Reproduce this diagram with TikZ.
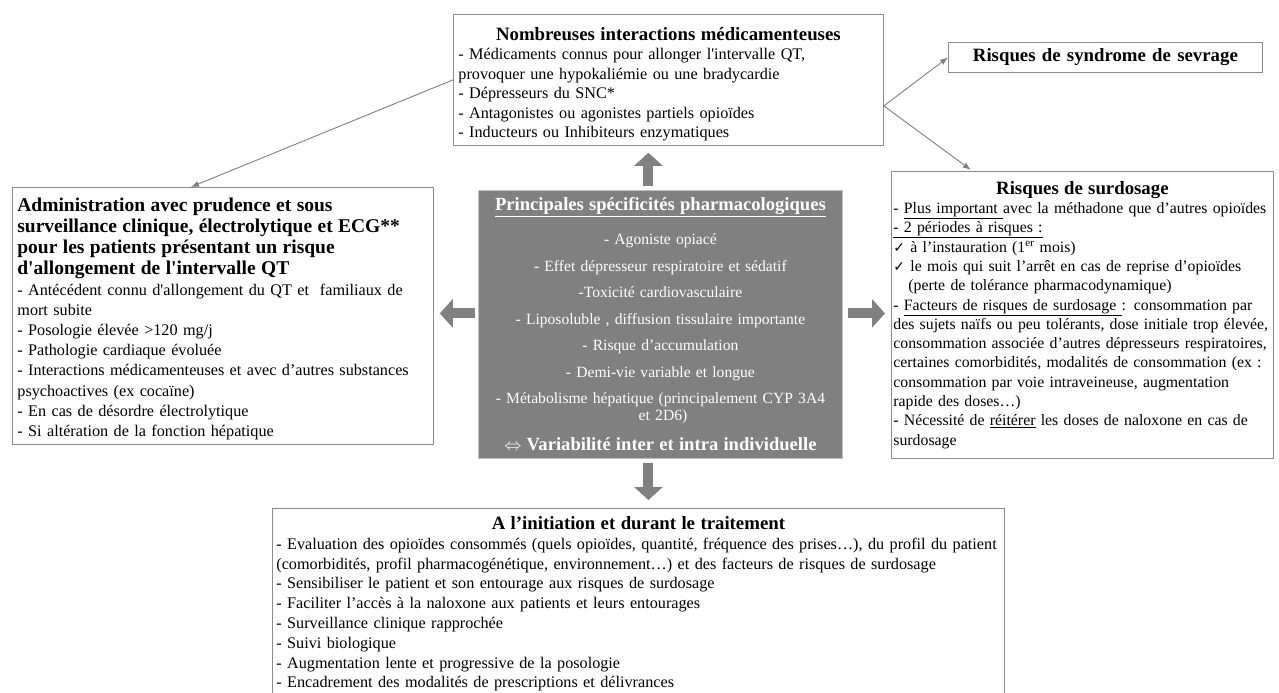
\documentclass[tikz,border=0pt]{standalone}
\usepackage{fontspec}
\setmainfont{Liberation Serif}
\newfontfamily\symbfont{DejaVu Sans}
\usetikzlibrary{arrows.meta}

\newcommand{\sq}{\textquotesingle}
\newcommand{\coche}{{\symbfont\fontsize{14}{14}\selectfont ✓}}
\newcommand{\titre}[2][0pt]{{\centering\fontsize{18.8}{21}\selectfont\bfseries\rule{0pt}{#1}#2\par}}

\tikzset{
  boite/.style={draw=black!45, line width=0.8pt, anchor=north west, inner xsep=5pt, inner ysep=4pt, align=left},
  corps/.style={font=\fontsize{16.2}{19.5}\selectfont},
  fleche/.style={draw=black!50, line width=0.9pt, -{Latex[length=8pt,width=6pt]}},
  grossefleche/.style={draw=black!50, line width=10pt, -{Triangle[length=13pt,width=28pt]}},
}

\begin{document}
\begin{tikzpicture}[x=1pt, y=-1pt]
    \useasboundingbox (0,0) rectangle (1279,693);
    \fill[white] (0,0) rectangle (1279,693);

    % Boites du haut
    \node[boite, corps, text width=420pt, minimum height=130pt] (inter) at (453,14) {
        \titre[22pt]{Nombreuses interactions médicamenteuses}
        - Médicaments connus pour allonger l\sq intervalle QT,\\
        provoquer une hypokaliémie ou une bradycardie\\
        - Dépresseurs du SNC*\\
        - Antagonistes ou agonistes partiels opioïdes\\
        - Inducteurs ou Inhibiteurs enzymatiques};
    \node[boite, text width=304pt, minimum height=30pt, align=center,
          font=\fontsize{18.8}{21}\selectfont\bfseries] (sevrage) at (948,42) {Risques de syndrome de sevrage};

    % Boite de gauche
    \node[boite, text width=411pt, minimum height=257pt, font=\fontsize{16.2}{20.2}\selectfont] (admin) at (12,187) {
        {\fontsize{19.5}{21}\selectfont\bfseries\rule{0pt}{20pt}Administration avec prudence et sous\\
        surveillance clinique, électrolytique et ECG**\\
        pour les patients présentant un risque\\
        d\sq allongement de l\sq intervalle QT\par}
        - Antécédent connu d\sq allongement du QT et \ familiaux de\\
        mort subite\\
        - Posologie élevée >120 mg/j\\
        - Pathologie cardiaque évoluée\\
        - Interactions médicamenteuses et avec d’autres substances\\
        psychoactives (ex cocaïne)\\
        - En cas de désordre électrolytique\\
        - Si altération de la fonction hépatique};

    % Boite centrale
    \node[boite, text width=354pt, minimum height=268pt, fill=black!50, draw=black!25, text=white, align=center,
          font=\fontsize{15.6}{17}\selectfont] (pharma) at (478,190) {
        {\fontsize{18.6}{20}\selectfont\bfseries\underline{Principales spécificités pharmacologiques}}\\[17pt]
        - Agoniste opiacé\\[9.5pt]
        - Effet dépresseur respiratoire et sédatif\\[9.5pt]
        -Toxicité cardiovasculaire\\[9.5pt]
        - Liposoluble , diffusion tissulaire importante\\[9.5pt]
        - Risque d’accumulation\\[9.5pt]
        - Demi-vie variable et longue\\[9.5pt]
        - Métabolisme hépatique (principalement CYP 3A4\\
        \ et 2D6)\\[13pt]
        {\fontsize{18.6}{20}\selectfont\bfseries $\Leftrightarrow$ Variabilité inter et intra individuelle}};

    % Boite de droite
    \node[boite, text width=378pt, inner xsep=2pt, minimum height=287pt, font=\fontsize{15.8}{19.3}\selectfont] (surdos) at (891,171) {
        \titre{Risques de surdosage}
        - \underline{Plus important\ }avec la méthadone que d’autres opioïdes\\
        \underline{- 2 périodes à risques :}\\
        \coche\ à l’instauration (1\textsuperscript{er} mois)\\
        \coche\ le mois qui suit l’arrêt en cas de reprise d’opioïdes\\
        \hspace*{15pt}(perte de tolérance pharmacodynamique)\\
        - \underline{Facteurs de risques de surdosage\ }: consommation par\\
        des sujets naïfs ou peu tolérants, dose initiale trop élevée,\\
        consommation associée d’autres dépresseurs respiratoires,\\
        certaines comorbidités, modalités de consommation (ex :\\
        consommation par voie intraveineuse, augmentation\\
        rapide des doses…)\\
        - Nécessité de \underline{réitérer} les doses de naloxone en cas de\\
        surdosage};

    % Boite du bas
    \node[boite, text width=724pt, inner xsep=4pt, font=\fontsize{16.2}{19.8}\selectfont] (init) at (272,508) {
        \titre[17pt]{A l’initiation et durant le traitement}
        - Evaluation des opioïdes consommés (quels opioïdes, quantité, fréquence des prises…), du profil du patient\\
        (comorbidités, profil pharmacogénétique, environnement…) et des facteurs de risques de surdosage\\
        - Sensibiliser le patient et son entourage aux risques de surdosage\\
        - Faciliter l’accès à la naloxone aux patients et leurs entourages\\
        - Surveillance clinique rapprochée\\
        - Suivi biologique\\
        - Augmentation lente et progressive de la posologie\\
        - Encadrement des modalités de prescriptions et délivrances\\
        \rule{0pt}{10pt}};

    % Fleches fines
    \draw[fleche] (inter.west) -- ([xshift=-32pt]admin.north);
    \draw[fleche] ([yshift=-26pt]inter.east) -- (sevrage.west);
    \draw[fleche, shorten >=2pt] ([yshift=-26pt]inter.east) -- ([xshift=-110pt]surdos.north);

    % Grosses fleches
    \draw[grossefleche, shorten <=4pt, shorten >=7pt] ([xshift=-12pt]pharma.north) -- ([xshift=-12pt]pharma.north |- inter.south);
    \draw[grossefleche, shorten <=4pt, shorten >=8pt] ([xshift=-12pt]pharma.south) -- ([xshift=-12pt]pharma.south |- init.north);
    \draw[grossefleche, shorten <=3pt, shorten >=6pt] ([yshift=11pt]pharma.west) -- ([yshift=11pt]pharma.west -| admin.east);
    \draw[grossefleche, shorten <=5pt, shorten >=6pt] ([yshift=11pt]pharma.east) -- ([yshift=11pt]pharma.east -| surdos.west);
\end{tikzpicture}
\end{document}
